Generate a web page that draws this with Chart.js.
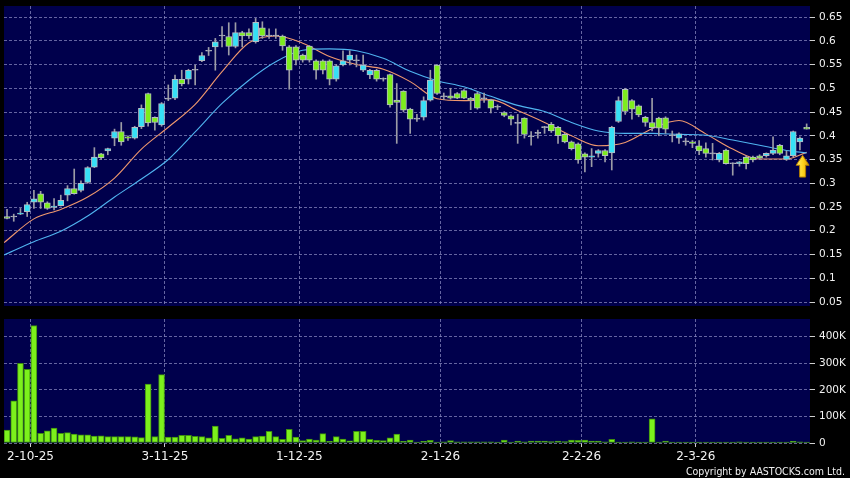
<!DOCTYPE html>
<html>
<head>
<meta charset="utf-8">
<script src="https://cdn.jsdelivr.net/npm/chart.js@4.4.1/dist/chart.umd.min.js"></script>
<style>
  body { margin: 0; background: #000; width: 850px; height: 478px; overflow: hidden; position: relative; }
  #price { position: absolute; left: 0; top: 0; }
  #vol { position: absolute; left: 0; top: 312px; }
  #copy { position: absolute; right: 5px; top: 465px; color: #f0f0f0; font: 10.5px 'DejaVu Sans Condensed', 'DejaVu Sans', sans-serif; }
</style>
</head>
<body>
<canvas id="price" width="850" height="312"></canvas>
<canvas id="vol" width="850" height="166"></canvas>
<div id="copy">Copyright by AASTOCKS.com Ltd.</div>
<script>
// daily candles, index 0 = first bar on the left
const opens = [
  0.230, 0.229, 0.235, 0.240, 0.260, 0.278, 0.259, 0.249, 0.253, 0.275,
  0.289, 0.285, 0.302, 0.334, 0.362, 0.368, 0.395, 0.409, 0.398, 0.395,
  0.419, 0.489, 0.439, 0.423, 0.477, 0.479, 0.519, 0.519, 0.538, 0.558,
  0.578, 0.587, 0.610, 0.609, 0.588, 0.617, 0.617, 0.598, 0.627, 0.610,
  0.610, 0.610, 0.587, 0.587, 0.570, 0.589, 0.558, 0.558, 0.558, 0.519,
  0.549, 0.559, 0.558, 0.538, 0.528, 0.538, 0.519, 0.529, 0.475, 0.494,
  0.456, 0.435, 0.439, 0.475, 0.549, 0.482, 0.484, 0.489, 0.495, 0.479,
  0.489, 0.478, 0.475, 0.460, 0.449, 0.442, 0.426, 0.437, 0.398, 0.405,
  0.417, 0.424, 0.418, 0.403, 0.387, 0.383, 0.362, 0.355, 0.363, 0.369,
  0.364, 0.430, 0.498, 0.474, 0.463, 0.439, 0.428, 0.437, 0.438, 0.400,
  0.395, 0.388, 0.387, 0.379, 0.373, 0.362, 0.349, 0.370, 0.341, 0.341,
  0.355, 0.355, 0.358, 0.358, 0.363, 0.380, 0.350, 0.358, 0.387, 0.418
];
const highs = [
  0.245, 0.235, 0.247, 0.260, 0.285, 0.283, 0.261, 0.268, 0.275, 0.295,
  0.330, 0.305, 0.335, 0.375, 0.363, 0.374, 0.414, 0.428, 0.400, 0.420,
  0.465, 0.490, 0.440, 0.470, 0.507, 0.528, 0.538, 0.540, 0.549, 0.575,
  0.586, 0.605, 0.630, 0.638, 0.638, 0.620, 0.625, 0.647, 0.640, 0.625,
  0.625, 0.612, 0.590, 0.590, 0.572, 0.590, 0.560, 0.560, 0.560, 0.550,
  0.579, 0.579, 0.570, 0.570, 0.540, 0.540, 0.522, 0.530, 0.510, 0.495,
  0.458, 0.445, 0.482, 0.538, 0.550, 0.490, 0.500, 0.491, 0.497, 0.481,
  0.492, 0.490, 0.477, 0.465, 0.451, 0.444, 0.445, 0.438, 0.409, 0.412,
  0.420, 0.428, 0.420, 0.405, 0.389, 0.385, 0.364, 0.373, 0.371, 0.371,
  0.420, 0.482, 0.500, 0.476, 0.465, 0.441, 0.479, 0.439, 0.440, 0.410,
  0.406, 0.395, 0.390, 0.390, 0.385, 0.384, 0.365, 0.372, 0.343, 0.346,
  0.358, 0.357, 0.360, 0.364, 0.398, 0.382, 0.368, 0.410, 0.398, 0.425
];
const lows = [
  0.225, 0.220, 0.234, 0.230, 0.247, 0.247, 0.245, 0.244, 0.252, 0.263,
  0.277, 0.282, 0.300, 0.333, 0.350, 0.360, 0.379, 0.380, 0.390, 0.393,
  0.415, 0.420, 0.412, 0.420, 0.474, 0.476, 0.505, 0.509, 0.507, 0.556,
  0.569, 0.538, 0.587, 0.570, 0.585, 0.587, 0.605, 0.595, 0.605, 0.605,
  0.605, 0.580, 0.498, 0.549, 0.555, 0.555, 0.519, 0.530, 0.507, 0.515,
  0.547, 0.549, 0.545, 0.535, 0.520, 0.515, 0.515, 0.460, 0.384, 0.450,
  0.405, 0.430, 0.433, 0.473, 0.487, 0.476, 0.477, 0.478, 0.478, 0.455,
  0.456, 0.470, 0.448, 0.455, 0.440, 0.423, 0.384, 0.395, 0.380, 0.395,
  0.405, 0.407, 0.384, 0.385, 0.370, 0.342, 0.324, 0.335, 0.355, 0.345,
  0.328, 0.428, 0.445, 0.435, 0.440, 0.420, 0.410, 0.400, 0.405, 0.387,
  0.384, 0.380, 0.375, 0.360, 0.355, 0.349, 0.345, 0.340, 0.317, 0.336,
  0.330, 0.345, 0.350, 0.355, 0.360, 0.360, 0.348, 0.356, 0.370, 0.414
];
const closes = [
  0.226, 0.229, 0.237, 0.255, 0.267, 0.260, 0.247, 0.252, 0.264, 0.289,
  0.278, 0.300, 0.333, 0.355, 0.354, 0.373, 0.409, 0.387, 0.395, 0.418,
  0.458, 0.427, 0.428, 0.468, 0.477, 0.519, 0.509, 0.538, 0.538, 0.569,
  0.578, 0.598, 0.610, 0.588, 0.617, 0.610, 0.610, 0.639, 0.610, 0.610,
  0.610, 0.589, 0.538, 0.559, 0.559, 0.559, 0.538, 0.538, 0.519, 0.547,
  0.558, 0.570, 0.558, 0.549, 0.538, 0.519, 0.519, 0.465, 0.470, 0.454,
  0.435, 0.435, 0.474, 0.517, 0.489, 0.482, 0.479, 0.479, 0.479, 0.475,
  0.458, 0.478, 0.458, 0.460, 0.443, 0.435, 0.426, 0.403, 0.398, 0.405,
  0.417, 0.410, 0.400, 0.387, 0.373, 0.349, 0.355, 0.358, 0.369, 0.358,
  0.418, 0.474, 0.451, 0.456, 0.444, 0.428, 0.417, 0.416, 0.414, 0.400,
  0.404, 0.387, 0.384, 0.368, 0.363, 0.362, 0.363, 0.341, 0.341, 0.345,
  0.341, 0.349, 0.353, 0.363, 0.370, 0.363, 0.358, 0.409, 0.395, 0.414
];
// volume in thousands of shares
const volumes = [
  49, 159, 300, 277, 442, 36, 46, 56, 36, 39,
  34, 31, 31, 26, 27, 24, 24, 24, 24, 23,
  20, 222, 24, 257, 22, 22, 29, 29, 25, 24,
  19, 64, 18, 29, 16, 19, 15, 24, 26, 44,
  24, 14, 51, 22, 9, 15, 11, 35, 6, 24,
  15, 8, 44, 44, 14, 10, 9, 19, 34, 6,
  11, 2, 6, 10, 3, 4, 9, 4, 4, 4,
  4, 4, 4, 2, 11, 3, 7.5, 4, 7.5, 7.5,
  7.5, 5, 7.5, 5, 11, 10, 11, 7.5, 7.5, 4,
  14, 2.5, 2.5, 4, 1, 1.3, 91, 2.5, 7.5, 1.3,
  2, 2, 2, 2, 1.5, 1, 1, 1, 1, 4,
  1, 1, 1, 1, 1, 1, 1, 6, 4, 1.3
];
// moving averages at these bar positions
const maIdx = [-0.45, 4, 8, 12, 16, 20, 24, 28, 32, 36, 40, 44, 48, 52, 56, 60,
  64, 68, 72, 76, 80, 84, 88, 92, 96, 100, 104, 108, 112, 116, 119];
const maFast = [0.175, 0.225, 0.245, 0.271, 0.311, 0.372, 0.418, 0.466, 0.535, 0.596,
  0.610, 0.595, 0.567, 0.550, 0.540, 0.514, 0.478, 0.474, 0.476, 0.453,
  0.428, 0.400, 0.379, 0.386, 0.415, 0.432, 0.404, 0.372, 0.351, 0.351, 0.365];
const maSlow = [0.149, 0.177, 0.199, 0.231, 0.271, 0.309, 0.350, 0.408, 0.468, 0.517,
  0.556, 0.580, 0.583, 0.579, 0.563, 0.536, 0.516, 0.503, 0.483, 0.464,
  0.451, 0.428, 0.410, 0.405, 0.405, 0.403, 0.401, 0.391, 0.380, 0.369, 0.364];

const priceTicks = [0.05, 0.1, 0.15, 0.2, 0.25, 0.3, 0.35, 0.4, 0.45, 0.5, 0.55, 0.6, 0.65];
const volTicks = [0, 100000, 200000, 300000, 400000];
const volTickLabels = ['0', '100K', '200K', '300K', '400K'];
const dateTickIdx = [3, 23, 43, 64, 85, 102];
const dateTickLabels = ['2-10-25', '3-11-25', '1-12-25', '2-1-26', '2-2-26', '2-3-26'];
// yellow marker under the last bars
const arrowIdx = 118.4, arrowTip = 0.359, arrowBase = 0.313;

const CYAN = '#36e0f6', GREEN = '#7ded1d', DOJI = '#a8a8b4';
const NAVY = '#00004c';
const GRID = 'rgba(135,135,190,0.75)';
const LABEL = '#f2f2f2';

const bodyColors = opens.map((o, i) => {
  const c = closes[i];
  if (Math.abs(c - o) < 0.0015) return DOJI;
  return c > o ? CYAN : GREEN;
});

const plotBg = {
  id: 'plotBg',
  beforeDraw(chart) {
    const { ctx, chartArea: a } = chart;
    ctx.save();
    ctx.fillStyle = NAVY;
    ctx.fillRect(a.left, a.top, a.right - a.left, a.bottom - a.top);
    ctx.restore();
  }
};

const arrowMark = {
  id: 'arrowMark',
  afterDatasetsDraw(chart) {
    const { ctx, scales } = chart;
    const x = scales.x.getPixelForValue(arrowIdx);
    const yt = scales.y.getPixelForValue(arrowTip);
    const yb = scales.y.getPixelForValue(arrowBase);
    const head = 10, hw = 6.5, sw = 3;
    ctx.save();
    ctx.beginPath();
    ctx.moveTo(x, yt);
    ctx.lineTo(x + hw, yt + head);
    ctx.lineTo(x + sw, yt + head);
    ctx.lineTo(x + sw, yb);
    ctx.lineTo(x - sw, yb);
    ctx.lineTo(x - sw, yt + head);
    ctx.lineTo(x - hw, yt + head);
    ctx.closePath();
    const g = ctx.createLinearGradient(x - hw, 0, x + hw, 0);
    g.addColorStop(0, '#fff06a');
    g.addColorStop(0.55, '#ffd21c');
    g.addColorStop(1, '#d99a00');
    ctx.fillStyle = g;
    ctx.fill();
    ctx.strokeStyle = '#b07a00';
    ctx.lineWidth = 1;
    ctx.stroke();
    ctx.restore();
  }
};

Chart.defaults.font.family = "'DejaVu Sans', sans-serif";
Chart.defaults.animation = false;

const xBase = (showLabels) => ({
  type: 'linear',
  min: -0.45,
  max: 119.5,
  offset: false,
  afterBuildTicks: s => { s.ticks = dateTickIdx.map(v => ({ value: v + 0.5 })); },
  afterFit: s => { s.height = showLabels ? 35 : 0; s.paddingLeft = 0; s.paddingRight = 0; },
  grid: { color: GRID, offset: false, drawTicks: showLabels, tickLength: 4, tickColor: '#cfcfcf', tickBorderDash: [] },
  border: { display: false, dash: [3, 2] },
  ticks: {
    display: showLabels,
    color: LABEL,
    font: { size: 12 },
    padding: 3,
    maxRotation: 0,
    autoSkip: false,
    callback: (v, i) => dateTickLabels[i]
  }
});

// right axis: fixed width, no extra top/bottom padding from the labels
const yFit = s => { s.width = 40; s.paddingTop = 0; s.paddingBottom = 0; };

new Chart(document.getElementById('price'), {
  type: 'bar',
  data: {
    datasets: [
      {
        type: 'line', label: 'MA10', order: 4,
        data: maIdx.map((x, k) => ({ x, y: maFast[k] })),
        borderColor: '#f0986e', borderWidth: 1.1, pointRadius: 0,
        cubicInterpolationMode: 'monotone'
      },
      {
        type: 'line', label: 'MA20', order: 3,
        data: maIdx.map((x, k) => ({ x, y: maSlow[k] })),
        borderColor: '#50b4f0', borderWidth: 1.1, pointRadius: 0,
        cubicInterpolationMode: 'monotone'
      },
      {
        label: 'range', order: 2, grouped: false,
        data: lows.map((l, i) => ({ x: i, y: [l, highs[i]] })),
        backgroundColor: '#9c9ca6', barThickness: 1
      },
      {
        label: 'body', order: 1, grouped: false,
        data: opens.map((o, i) => ({ x: i, y: [o, closes[i]] })),
        backgroundColor: bodyColors,
        borderColor: '#b4bcc4', borderWidth: 1, borderSkipped: false,
        barThickness: 6, minBarLength: 1
      }
    ]
  },
  options: {
    responsive: false,
    layout: { autoPadding: false, padding: { left: 4, top: 6, right: 0, bottom: 6 } },
    plugins: { legend: { display: false }, tooltip: { enabled: false } },
    scales: {
      x: xBase(false),
      y: {
        position: 'right',
        min: 0.0416,
        max: 0.6732,
        afterBuildTicks: s => { s.ticks = priceTicks.map(v => ({ value: v })); },
        afterFit: yFit,
        grid: { color: GRID, drawTicks: true, tickLength: 5, tickColor: '#cfcfcf', tickBorderDash: [] },
        border: { display: false, dash: [3, 2] },
        ticks: {
          color: LABEL, font: { size: 10.5 }, padding: 4,
          callback: v => String(+v.toFixed(2))
        }
      }
    }
  },
  plugins: [plotBg, arrowMark]
});

new Chart(document.getElementById('vol'), {
  type: 'bar',
  data: {
    datasets: [{
      label: 'volume',
      data: volumes.map((v, i) => ({ x: i, y: v * 1000 })),
      backgroundColor: '#7cf01c',
      borderColor: '#3d8e0e', borderWidth: 1, borderSkipped: false,
      barThickness: 6, minBarLength: 1
    }]
  },
  options: {
    responsive: false,
    layout: { autoPadding: false, padding: { left: 4, top: 7, right: 0, bottom: 0 } },
    plugins: { legend: { display: false }, tooltip: { enabled: false } },
    scales: {
      x: xBase(true),
      y: {
        position: 'right',
        min: 0,
        max: 466600,
        afterBuildTicks: s => { s.ticks = volTicks.map(v => ({ value: v })); },
        afterFit: yFit,
        grid: { color: GRID, drawTicks: true, tickLength: 5, tickColor: '#cfcfcf', tickBorderDash: [] },
        border: { display: false, dash: [3, 2] },
        ticks: {
          color: LABEL, font: { size: 10.5 }, padding: 4,
          callback: (v, i) => volTickLabels[i]
        }
      }
    }
  },
  plugins: [plotBg]
});
</script>
</body>
</html>
